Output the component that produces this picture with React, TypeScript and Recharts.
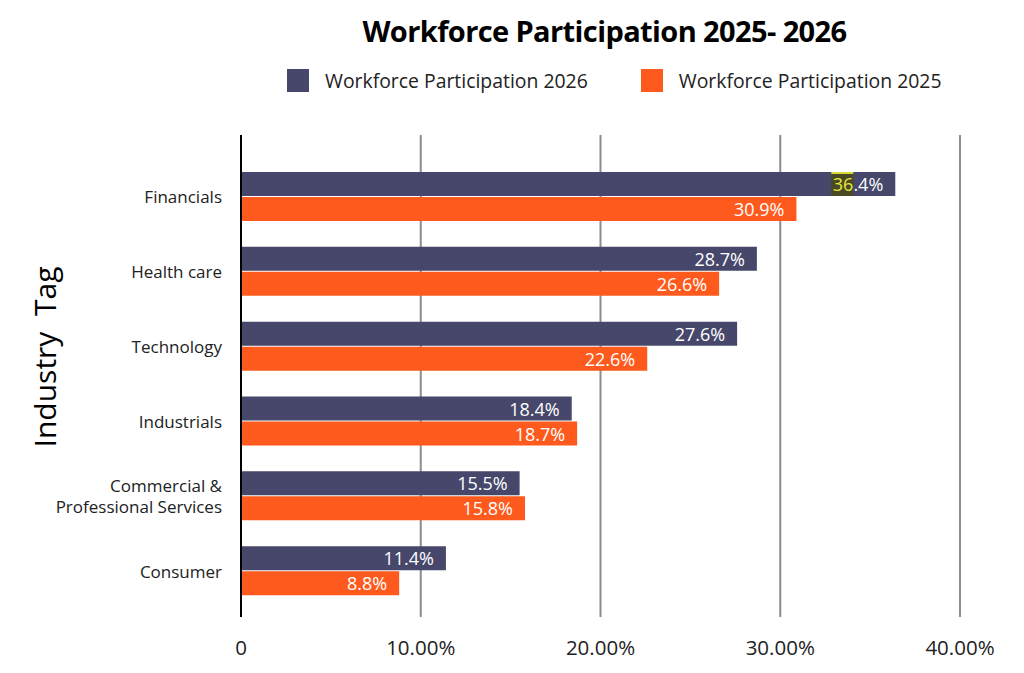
import { BarChart, Bar, XAxis, YAxis, CartesianGrid, LabelList } from "recharts";

const industries = [
  "Financials",
  "Health care",
  "Technology",
  "Industrials",
  "Commercial &\nProfessional Services",
  "Consumer",
];
const participation2026 = [36.4, 28.7, 27.6, 18.4, 15.5, 11.4];
const participation2025 = [30.9, 26.6, 22.6, 18.7, 15.8, 8.8];
const xTicks = [0, 10, 20, 30, 40];

const data = industries.map((name, i) => ({
  name,
  y2026: participation2026[i],
  y2025: participation2025[i],
}));

const NAVY = "#46476a";
const ORANGE = "#fe5a1d";
const FONT = "'Open Sans', 'Noto Sans', sans-serif";

const IndustryTick = ({ x, y, payload }: any) => {
  const lines = String(payload.value).split("\n");
  const lh = 21;
  const startY = y - ((lines.length - 1) * lh) / 2;
  return (
    <text x={x} y={startY} textAnchor="end" fill="#222" fontSize={17} fontFamily={FONT} dominantBaseline="central">
      {lines.map((l, i) => (
        <tspan key={i} x={x} y={startY + i * lh}>
          {l}
        </tspan>
      ))}
    </text>
  );
};

const barLabel = (highlightFirst: boolean) => (props: any) => {
  const { x, y, width, height, value, index } = props;
  const xEnd = x + width - 12;
  const cy = y + height / 2;
  const txt = `${value}%`;
  if (highlightFirst && index === 0) {
    return (
      <g>
        <rect x={xEnd - 52} y={y} width={22} height={height} fill="#4a4a22" />
        <rect x={xEnd - 52} y={y} width={22} height={2} fill="#d8d83a" />
        <text x={xEnd} y={cy} textAnchor="end" dominantBaseline="central" fontSize={18} fontFamily={FONT} fill="#fff">
          <tspan fill="#e6e640">{txt.slice(0, 2)}</tspan>
          <tspan>{txt.slice(2)}</tspan>
        </text>
      </g>
    );
  }
  return (
    <text x={xEnd} y={cy} textAnchor="end" dominantBaseline="central" fontSize={18} fontFamily={FONT} fill="#fff">
      {txt}
    </text>
  );
};

const legendItems = [
  { label: "Workforce Participation 2026", color: NAVY },
  { label: "Workforce Participation 2025", color: ORANGE },
];

export default function App() {
  return (
    <div style={{ position: "absolute", left: 0, top: 0, width: 1024, height: 673, background: "#fff" }}>
      <div
        style={{
          position: "absolute",
          left: 245,
          width: 719,
          top: 11,
          textAlign: "center",
          fontFamily: FONT,
          fontWeight: 700,
          fontSize: 29,
          color: "#000",
          letterSpacing: -0.6,
        }}
      >
        Workforce Participation 2025- 2026
      </div>
      <div
        style={{
          position: "absolute",
          left: 287,
          top: 67,
          display: "flex",
          alignItems: "center",
          fontFamily: FONT,
          fontSize: 19.4,
          color: "#222",
        }}
      >
        {legendItems.map((it, i) => (
          <div key={i} style={{ display: "flex", alignItems: "center", marginRight: i === 0 ? 53 : 0 }}>
            <span style={{ width: 22, height: 23, background: it.color, display: "inline-block", marginRight: 16 }} />
            <span>{it.label}</span>
          </div>
        ))}
      </div>
      <div
        style={{
          position: "absolute",
          left: 44,
          top: 357,
          transform: "translate(-50%, -50%) rotate(-90deg)",
          fontFamily: FONT,
          fontSize: 30,
          color: "#000",
          whiteSpace: "pre",
        }}
      >
        Industry  Tag
      </div>
      <BarChart
        width={1024}
        height={673}
        data={data}
        layout="vertical"
        margin={{ top: 135, right: 64, bottom: 0, left: 0 }}
        barSize={24}
        barGap={1}
      >
        <CartesianGrid horizontal={false} vertical stroke="#8c8c8c" strokeWidth={2} />
        <XAxis
          type="number"
          domain={[0, 40]}
          ticks={xTicks}
          axisLine={false}
          tickLine={false}
          tickSize={0}
          tickMargin={23}
          height={56}
          tick={{ fill: "#222", fontSize: 20.5, fontFamily: FONT }}
          tickFormatter={(v: number) => (v === 0 ? "0" : `${v.toFixed(2)}%`)}
        />
        <YAxis
          type="category"
          dataKey="name"
          width={241}
          padding={{ top: 24, bottom: 9 }}
          axisLine={{ stroke: "#000", strokeWidth: 2 }}
          tickLine={false}
          tickSize={0}
          tickMargin={19}
          tick={<IndustryTick />}
          interval={0}
        />
        <Bar dataKey="y2026" name="Workforce Participation 2026" fill={NAVY} isAnimationActive={false}>
          <LabelList dataKey="y2026" content={barLabel(true)} />
        </Bar>
        <Bar dataKey="y2025" name="Workforce Participation 2025" fill={ORANGE} isAnimationActive={false}>
          <LabelList dataKey="y2025" content={barLabel(false)} />
        </Bar>
      </BarChart>
    </div>
  );
}
